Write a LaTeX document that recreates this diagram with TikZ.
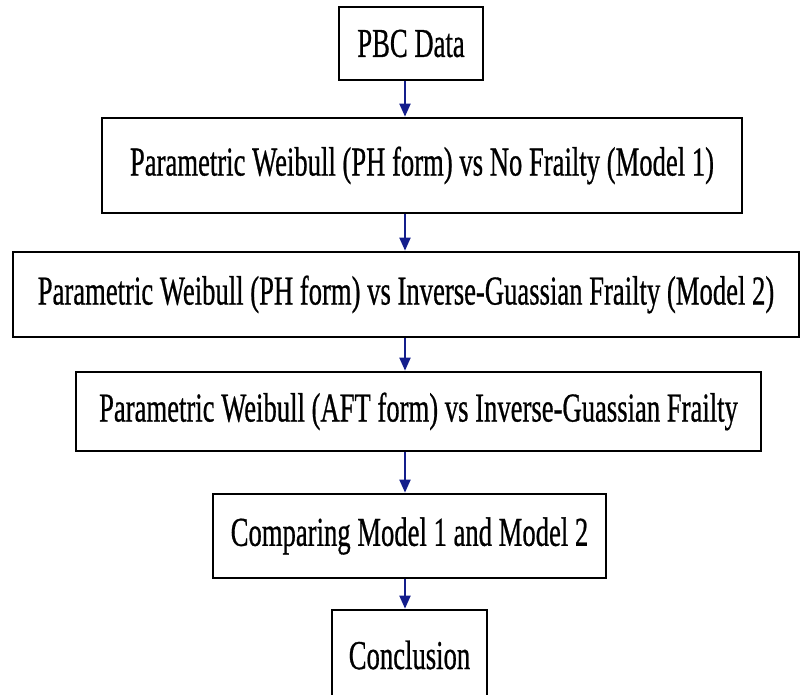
\documentclass[tikz,border=0pt]{standalone}
\usepackage{fontspec}
\usepackage{graphicx}
\setmainfont[FakeBold=0.8]{Liberation Serif}
\usetikzlibrary{arrows.meta}
\definecolor{arrblue}{RGB}{20,30,140}
\newcommand{\cond}[1]{\scalebox{0.65}[1]{#1}}
\tikzset{
  box/.style={draw=black, line width=2.7pt, inner sep=0pt, align=center,
    font=\fontsize{41}{44}\selectfont},
  arr/.style={draw=arrblue, line width=2pt, -{Triangle[length=13pt,width=11pt]}}
}
\begin{document}
\begin{tikzpicture}[x=1pt,y=1pt]
\useasboundingbox (0,0) rectangle (801,-695);
\clip (0,0) rectangle (801,-695);
\node[box, minimum width=144pt, minimum height=73pt] (b1) at (411,-43.5) {\cond{PBC Data}};
\node[box, minimum width=640pt, minimum height=95pt] (b2) at (422,-165.5) {\cond{Parametric Weibull (PH form) vs No Frailty (Model 1)}};
\node[box, minimum width=786pt, minimum height=85pt] (b3) at (406,-294.5) {\cond{Parametric Weibull (PH form) vs Inverse-Guassian Frailty (Model 2)}};
\node[box, minimum width=685pt, minimum height=79pt] (b4) at (418.5,-411.5) {\cond{Parametric Weibull (AFT form) vs Inverse-Guassian Frailty}};
\node[box, minimum width=393pt, minimum height=84pt] (b5) at (409.5,-536) {\cond{Comparing Model 1 and Model 2}};
\node[box, minimum width=155pt, minimum height=90pt] (b6) at (409.5,-655) {\cond{Conclusion}};
\coordinate (ax) at (405,0);
\draw[arr] (b1.south -| ax) -- (b2.north -| ax);
\draw[arr] (b2.south -| ax) -- (b3.north -| ax);
\draw[arr] (b3.south -| ax) -- (b4.north -| ax);
\draw[arr] (b4.south -| ax) -- (b5.north -| ax);
\draw[arr] (b5.south -| ax) -- (b6.north -| ax);
\end{tikzpicture}
\end{document}
